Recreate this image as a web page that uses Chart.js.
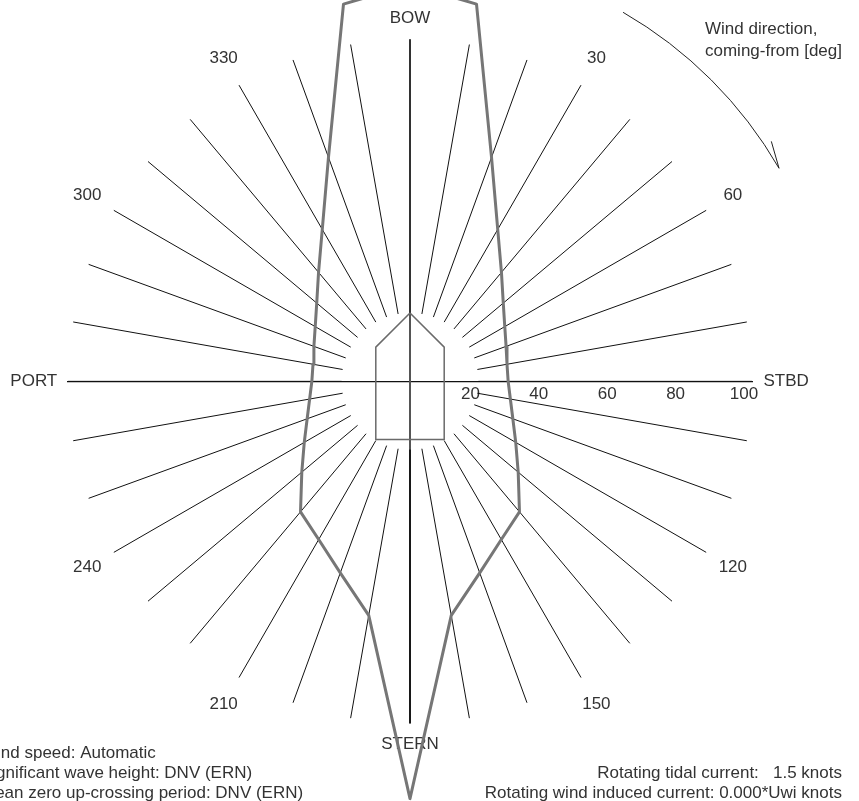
<!DOCTYPE html>
<html>
<head>
<meta charset="utf-8">
<script src="https://cdn.jsdelivr.net/npm/chart.js@4"></script>
<style>
  html, body { margin: 0; padding: 0; background: #fff; overflow: hidden; }
  canvas { display: block; }
</style>
</head>
<body>
<canvas id="dpChart" width="859" height="801"></canvas>
<script>
// Datos del gráfico (dirección del viento en grados, capacidad en % del eje radial)
const windDirs = [0, 10, 20, 30, 40, 50, 60, 70, 80, 90, 100, 110, 120, 130, 140, 150, 160, 170,
                  180, 190, 200, 210, 220, 230, 240, 250, 260, 270, 280, 290, 300, 310, 320, 330, 340, 350];
const capability = [116, 112, 69.7, 51.3, 41.6, 35.6, 32.0, 29.9, 28.8, 28.7, 29.8, 32.0, 35.7, 41.3, 49.8, 53.4, 59.6, 69.5,
                    122, 69.5, 59.6, 53.4, 49.8, 41.3, 35.7, 32.0, 29.8, 28.7, 28.8, 29.9, 32.0, 35.6, 41.6, 51.3, 69.7, 112];

// Rayos cada 10 grados, del radio 20 al 100
const spokeDirs = windDirs;
const spokeInner = 20;
const spokeOuter = 100;

// Marcas del eje radial
const radialTicks = [20, 40, 60, 80, 100];

// Etiquetas de dirección
const dirLabels = [30, 60, 120, 150, 210, 240, 300, 330];
const sideLabels = [
  { text: 'BOW', dir: 0, r: 106 },
  { text: 'STBD', dir: 90, r: 110 },
  { text: 'STERN', dir: 180, r: 106 },
  { text: 'PORT', dir: 270, r: 110 }
];

// Contorno del barco
const shipX = [0, 10, 10, -10, -10, 0];
const shipY = [20, 10, -17, -17, 10, 20];

// Notas
const notesLeft = ['Wind speed: Automatic', 'Significant wave height: DNV (ERN)', 'Mean zero up-crossing period: DNV (ERN)'];
const notesRight = ['Rotating tidal current:   1.5 knots', 'Rotating wind induced current: 0.000*Uwi knots'];
const windTitle = ['Wind direction,', 'coming-from [deg]'];

const FONT = '17px "Liberation Sans", Arial, sans-serif';

function polar(dir, r) {
  const a = dir * Math.PI / 180;
  return { x: r * Math.sin(a), y: r * Math.cos(a) };
}

// Datasets
const datasets = [];

datasets.push({
  label: 'capability',
  data: windDirs.concat([windDirs[0]]).map((d, i) => polar(d, capability[i % capability.length])),
  borderColor: '#767676',
  borderWidth: 3,
  borderJoinStyle: 'round'
});

datasets.push({
  label: 'ship',
  data: shipX.map((x, i) => ({ x, y: shipY[i] })),
  borderColor: '#6a6a6a',
  borderWidth: 1.5
});

spokeDirs.forEach(d => {
  datasets.push({
    label: 'spoke' + d,
    data: [polar(d, spokeInner), polar(d, spokeOuter)],
    borderColor: '#111',
    borderWidth: 1
  });
});

datasets.push({
  label: 'centerline',
  data: [polar(0, spokeOuter), polar(180, spokeOuter)],
  borderColor: '#555',
  borderWidth: 2
});

datasets.forEach(ds => {
  ds.showLine = true;
  ds.pointRadius = 0;
  ds.pointHoverRadius = 0;
  ds.fill = false;
  ds.tension = 0;
});

// Textos y flecha del viento
const labelsPlugin = {
  id: 'dpLabels',
  beforeDatasetsDraw(chart) {
    const { ctx, scales: { x, y } } = chart;
    ctx.save();
    ctx.font = FONT;
    ctx.fillStyle = '#333';
    ctx.textAlign = 'center';
    ctx.textBaseline = 'middle';
    dirLabels.forEach(d => {
      const p = polar(d, 109);
      ctx.fillText(String(d), x.getPixelForValue(p.x), y.getPixelForValue(p.y));
    });
    sideLabels.forEach(l => {
      const p = polar(l.dir, l.r);
      ctx.fillText(l.text, x.getPixelForValue(p.x), y.getPixelForValue(p.y));
    });
    ctx.restore();
  },
  afterDraw(chart) {
    const { ctx, scales: { x, y } } = chart;
    ctx.save();
    // flecha curva
    const cx = x.getPixelForValue(0);
    const cy = y.getPixelForValue(0);
    const R = x.getPixelForValue(124.6) - cx;
    const a0 = (30 - 90) * Math.PI / 180;
    const a1 = (60 - 90) * Math.PI / 180;
    ctx.strokeStyle = '#222';
    ctx.lineWidth = 1;
    ctx.beginPath();
    ctx.arc(cx, cy, R, a0, a1, false);
    ctx.stroke();
    const tipX = cx + R * Math.cos(a1);
    const tipY = cy + R * Math.sin(a1);
    const back = Math.atan2(-Math.sin(a1 + Math.PI / 2), -Math.cos(a1 + Math.PI / 2)) + 14 * Math.PI / 180;
    ctx.beginPath();
    ctx.moveTo(tipX, tipY);
    ctx.lineTo(tipX + 28 * Math.cos(back), tipY + 28 * Math.sin(back));
    ctx.stroke();

    ctx.font = FONT;
    ctx.fillStyle = '#333';
    ctx.textBaseline = 'middle';
    ctx.textAlign = 'left';
    windTitle.forEach((t, i) => ctx.fillText(t, 705, 29 + i * 22));
    notesLeft.forEach((t, i) => ctx.fillText(t, -19, 753 + i * 20));
    ctx.textAlign = 'right';
    notesRight.forEach((t, i) => ctx.fillText(t, 842, 773 + i * 20));
    ctx.restore();
  }
};

new Chart(document.getElementById('dpChart'), {
  type: 'scatter',
  data: { datasets },
  plugins: [labelsPlugin],
  options: {
    responsive: false,
    animation: false,
    devicePixelRatio: 1,
    layout: { padding: { left: 68, right: 107, top: 0, bottom: 0 } },
    plugins: { legend: { display: false }, tooltip: { enabled: false } },
    events: [],
    scales: {
      x: {
        type: 'linear',
        min: -100,
        max: 100,
        position: { y: 0 },
        grid: { display: false, drawTicks: false },
        border: { display: true, color: '#111', width: 1.3 },
        afterBuildTicks: scale => { scale.ticks = radialTicks.map(v => ({ value: v })); },
        ticks: {
          font: { family: '"Liberation Sans", Arial, sans-serif', size: 17 },
          color: '#333',
          padding: 3,
          labelOffset: -8,
          maxRotation: 0,
          autoSkip: false,
          callback: v => String(v)
        }
      },
      y: {
        type: 'linear',
        min: -122.7,
        max: 111.5,
        display: false
      }
    }
  }
});
</script>
</body>
</html>
